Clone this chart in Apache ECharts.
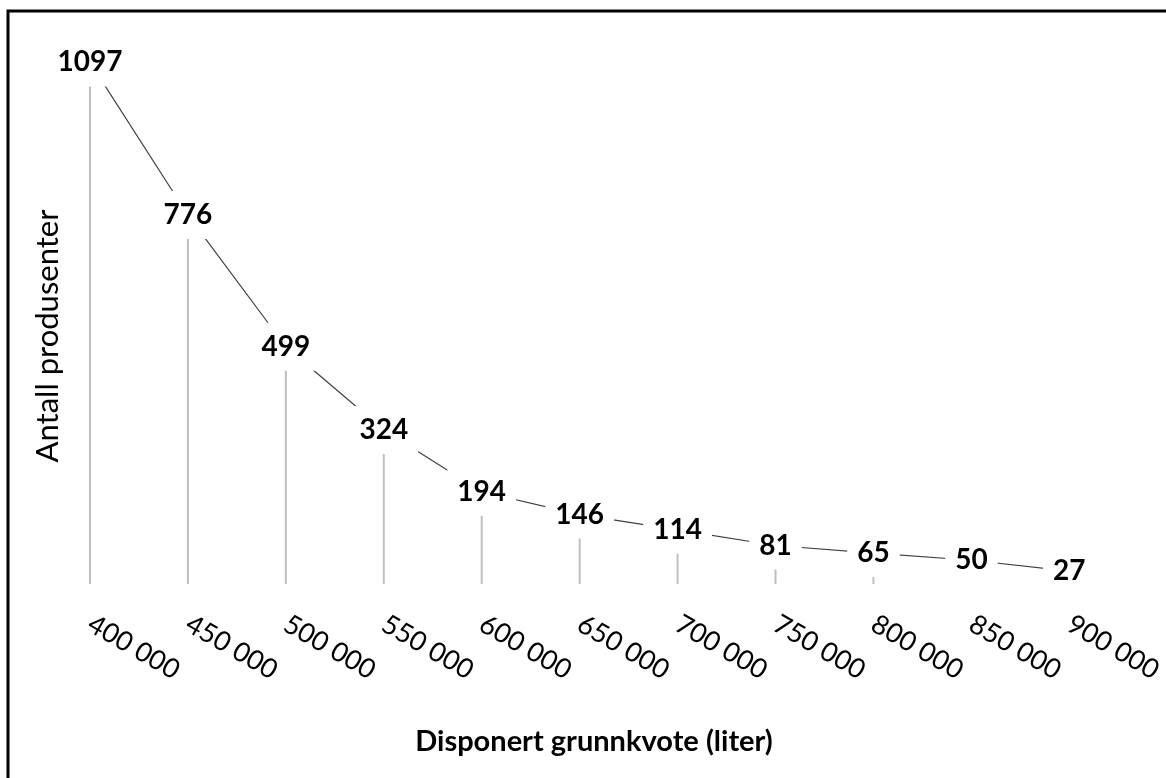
<!DOCTYPE html>
<html>
<head>
<meta charset="utf-8">
<script src="https://cdn.jsdelivr.net/npm/echarts@6/dist/echarts.min.js"></script>
<style>html,body{margin:0;padding:0;background:#fff;}#c{width:1166px;height:778px;}</style>
</head>
<body>
<div id="c"></div>
<script>
const categories = ['400 000','450 000','500 000','550 000','600 000','650 000','700 000','750 000','800 000','850 000','900 000'];
const producers = [1097, 776, 499, 324, 194, 146, 114, 81, 65, 50, 27];
const xTitle = 'Disponert grunnkvote (liter)';
const yTitle = 'Antall produsenter';

const chart = echarts.init(document.getElementById('c'));
chart.setOption({
  animation: false,
  backgroundColor: '#fff',
  grid: { left: 41, right: 47, top: 61, bottom: 194 },
  xAxis: {
    type: 'category',
    data: categories,
    axisLine: { show: false },
    axisTick: { show: false },
    axisLabel: { interval: 0, rotate: -30, margin: 38, fontSize: 27, color: '#000', fontFamily: 'Lato', align: 'left' }
  },
  yAxis: {
    type: 'value', min: 0, max: 1100, show: false
  },
  graphic: [
    { type: 'rect', shape: { x: 8, y: 11, width: 1180, height: 800 }, style: { fill: 'none', stroke: '#000', lineWidth: 3 }, z: 100 },
    { type: 'text', x: 594, y: 742, style: { text: xTitle, font: 'bold 29px Lato', fill: '#000', align: 'center', verticalAlign: 'middle' } },
    { type: 'text', x: 48, y: 336, rotation: Math.PI / 2, style: { text: yTitle, font: '31px Lato', fill: '#000', align: 'center', verticalAlign: 'middle' } }
  ],
  series: [
    {
      type: 'bar', data: producers, barWidth: 2, z: 1,
      itemStyle: { color: '#bfbfbf' }, silent: true
    },
    {
      type: 'line', data: producers, z: 3,
      symbol: 'circle', symbolSize: 2, showSymbol: true,
      itemStyle: { color: 'rgba(0,0,0,0)', borderWidth: 0 },
      lineStyle: { color: '#404040', width: 1.2 },
      label: {
        show: true, position: 'inside', fontSize: 28, lineHeight: 28, fontWeight: 'bold', color: '#000', fontFamily: 'Lato',
        backgroundColor: '#fff', padding: [10, 10, 10, 10], opacity: 1
      }
    }
  ]
});
</script>
</body>
</html>
